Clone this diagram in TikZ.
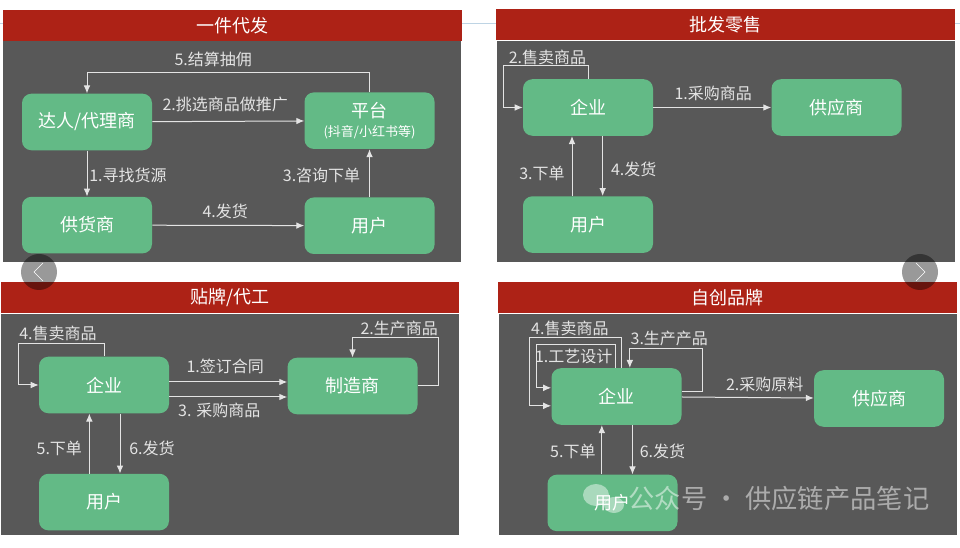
\documentclass[tikz,border=0pt]{standalone}
\usepackage{fontspec}
\setmainfont{Noto Sans CJK SC}
\usetikzlibrary{arrows.meta,positioning}
\definecolor{headColor}{RGB}{173,34,22}
\definecolor{panelColor}{RGB}{88,88,88}
\definecolor{actorColor}{RGB}{99,186,134}
\definecolor{flowColor}{RGB}{228,228,228}
\definecolor{guideColor}{RGB}{190,212,228}
\tikzset{panel/.style={fill=panelColor, inner sep=0pt, minimum width=343.5pt, minimum height=166pt}}
\tikzset{head/.style={fill=headColor, text=white, font=\fontsize{13.5pt}{15pt}\selectfont, inner sep=0pt, minimum width=344pt, minimum height=23pt}}
\tikzset{actor/.style={fill=actorColor, text=white, align=center, font=\fontsize{13.5pt}{16pt}\selectfont, inner sep=0pt, minimum width=97.5pt, minimum height=42.4pt, rounded corners=7pt}}
\tikzset{lbl/.style={text=flowColor, font=\fontsize{12pt}{14pt}\selectfont, inner sep=0pt}}
\tikzset{flow/.style={draw=flowColor, line width=.75pt, -{Latex[length=6pt,width=5pt]}}}
\tikzset{pager/.style={circle, fill=black, fill opacity=.4, inner sep=0pt, minimum size=27pt}}

\begin{document}
\begin{tikzpicture}[x=.75pt, y=-.75pt]
	\path[use as bounding box, fill=white] (0,0) rectangle (960,548);
	\draw[guideColor] (0,23) -- (960,23);

	% Panels
	\node (panelA) [panel] at (232,151.5) {};
	\node (headA) [head] at (232.5,25.5) {一件代发};
	\node (panelB) [panel] at (725.5,151.5) {};
	\node (headB) [head] at (725.5,24.5) {批发零售};
	\node (panelC) [panel] at (230,424.5) {};
	\node (headC) [head] at (230,297.5) {贴牌/代工};
	\node (panelD) [panel] at (728,424.5) {};
	\node (headD) [head] at (727.5,297.5) {自创品牌};

	% Nodes
	\begin{scope}[node distance=34.5pt and 114pt]
		\node (daren) [actor] at (87,122) {达人/代理商};
		\node (supplierA) [actor, below=of daren] {供货商};
		\node (platform) [actor, right=of daren, yshift=1pt] {平台\\[-2pt]{\fontsize{9.75pt}{11pt}\selectfont (抖音/小红书等)}};
		\node (userA) [actor, right=of supplierA, yshift=-.5pt] {用户};
	\end{scope}
	\begin{scope}[node distance=45pt and 88.5pt]
		\node (firmB) [actor] at (588,107.5) {企业};
		\node (supplierB) [actor, right=of firmB] {供应商};
		\node (userB) [actor, below=of firmB] {用户};
	\end{scope}
	\begin{scope}[node distance=45pt and 88.5pt]
		\node (firmC) [actor] at (104,385) {企业};
		\node (maker) [actor, right=of firmC, yshift=-.75pt] {制造商};
		\node (userC) [actor, below=of firmC] {用户};
	\end{scope}
	\begin{scope}[node distance=37pt and 99pt]
		\node (firmD) [actor] at (616.5,396.5) {企业};
		\node (supplierD) [actor, right=of firmD, yshift=-1.5pt] {供应商};
		\node (userD) [actor, below=of firmD, xshift=-3pt] {用户};
	\end{scope}

	% Connectors
	\draw [flow] (daren) -- node[lbl, shift={(41,2)}] {1.寻找货源} (supplierA);
	\draw [flow] (daren) -- node[lbl, shift={(-3,-17)}] {2.挑选商品做推广} (platform);
	\draw [flow] (userA) -- node[lbl, shift={(-48,2)}] {3.咨询下单} (platform);
	\draw [flow] (supplierA) -- node[lbl, shift={(-3,-14)}] {4.发货} (userA);
	\draw [flow] (platform.north) -- ++(0,-20) -| node[lbl, pos=.25, shift={(-15,-13)}] {5.结算抽佣} (daren.north);

	\draw [flow] (firmB) -- node[lbl, shift={(1,-14)}] {1.采购商品} (supplierB);
	\draw [flow] (firmB.north) -- ++(0,-13) -- node[lbl, shift={(2,-9)}] {2.售卖商品} ++(-85,0) |- (firmB.west);
	\draw [flow] ([xshift=-12pt]userB.north) -- node[lbl, shift={(-30,7)}] {3.下单} ([xshift=-12pt]firmB.south);
	\draw [flow] ([xshift=11pt]firmB.south) -- node[lbl, shift={(31,3)}] {4.发货} ([xshift=11pt]userB.north);

	\draw [flow] ([yshift=2.25pt]firmC.east) -- node[lbl, shift={(-3,-16)}] {1.签订合同} ([yshift=3pt]maker.west);
	\draw [flow] (maker.east) -- ++(21,0) -- ++(0,-48) -| node[lbl, pos=.25, shift={(3.5,-10)}] {2.生产商品} (maker.north);
	\draw [flow] ([yshift=-9pt]firmC.east) -- node[lbl, shift={(-9,13)}] {3. 采购商品} ([yshift=-8.25pt]maker.west);
	\draw [flow] (firmC.north) -- ++(0,-13) -- node[lbl, shift={(-3,-10)}] {4.售卖商品} ++(-86,0) |- (firmC.west);
	\draw [flow] ([xshift=-11pt]userC.north) -- node[lbl, shift={(-30,5)}] {5.下单} ([xshift=-11pt]firmC.south);
	\draw [flow] ([xshift=12pt]firmC.south) -- node[lbl, shift={(32,5)}] {6.发货} ([xshift=12pt]userC.north);

	\draw [flow] ([xshift=-1pt]firmD.north) -- ++(0,-23) -- node[lbl, shift={(-2,11)}] {1.工艺设计} ++(-79,0) |- ([yshift=6.5pt]firmD.west);
	\draw [flow] (firmD) -- node[lbl, shift={(17,-13.5)}] {2.采购原料} (supplierD);
	\draw [flow] ([yshift=4pt]firmD.east) -- ++(21,0) -- ++(0,-43) -| node[lbl, pos=.25, shift={(3,-10)}] {3.生产产品} ([xshift=10pt]firmD.north);
	\draw [flow] ([xshift=4pt]firmD.north) -- ++(0,-30) -- node[lbl, shift={(-6,-10)}] {4.售卖商品} ++(-92,0) |- ([yshift=-7pt]firmD.west);
	\draw [flow] ([xshift=-8pt]userD.north) -- node[lbl, shift={(-29,2)}] {5.下单} ([xshift=-11pt]firmD.south);
	\draw [flow] ([xshift=12pt]firmD.south) -- node[lbl, shift={(30,2)}] {6.发货} ([xshift=15pt]userD.north);

	% Pager buttons
	\node (prev) [pager] at (39,272) {};
	\draw [white] ([shift={(4,-9)}]prev.center) -- ++(-9,9) -- ++(9,9);
	\node (next) [pager] at (920,272) {};
	\draw [white] ([shift={(-4,-9)}]next.center) -- ++(9,9) -- ++(-9,9);

	% Watermark
	\fill [white, opacity=.45] (596,495) ellipse (13 and 11);
	\fill [white, opacity=.45] (614,505) ellipse (10 and 8);
	\node (mark) [text=white, text opacity=.5, font=\fontsize{19.7pt}{22pt}\selectfont, inner sep=0pt] at (779,499) {公众号 · 供应链产品笔记};
\end{tikzpicture}
\end{document}
